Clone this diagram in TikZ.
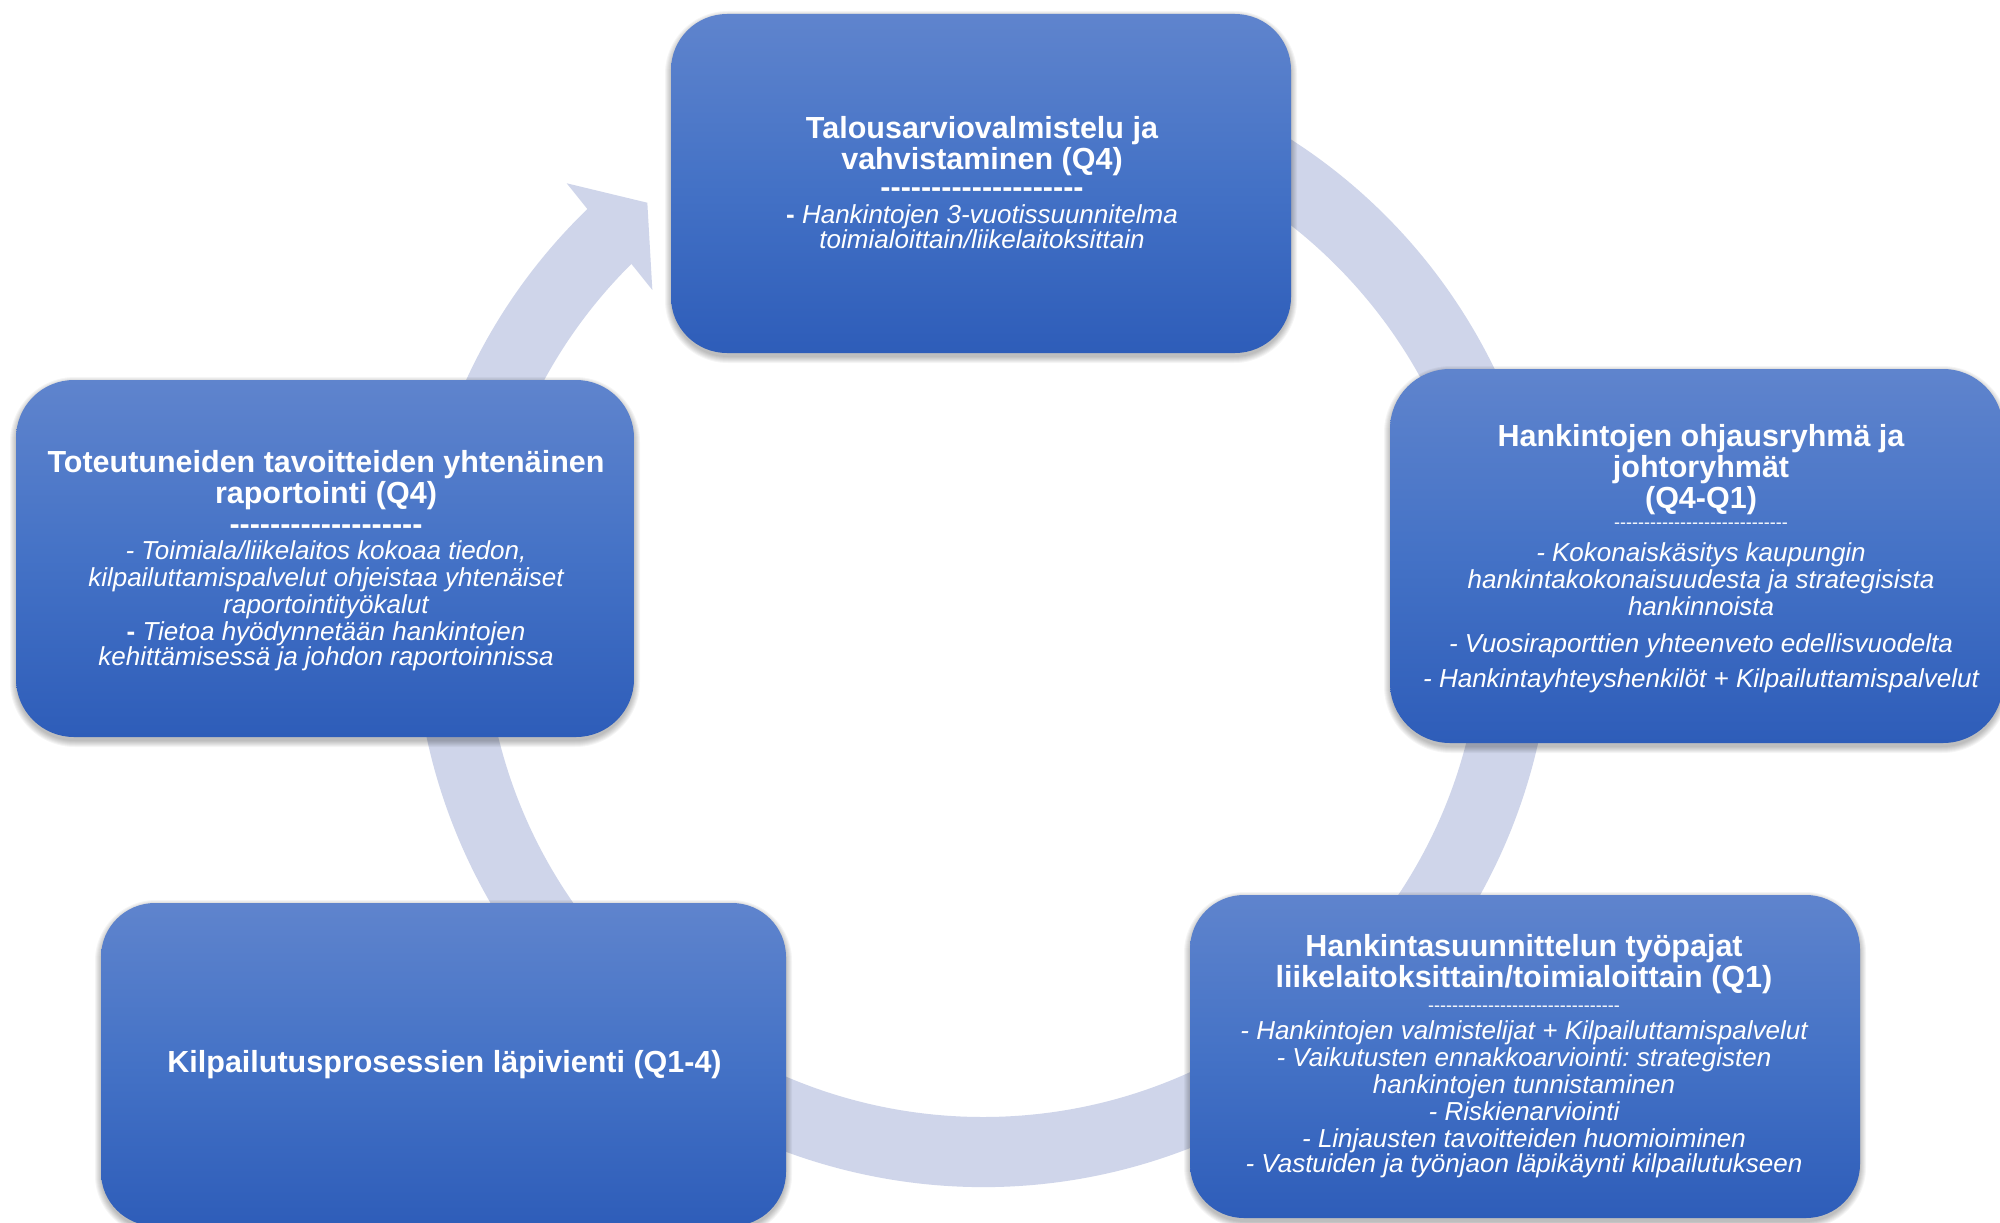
\documentclass[tikz,border=0pt]{standalone}
\usepackage{fontspec}
\setmainfont{Liberation Sans}
\usetikzlibrary{calc}
\definecolor{ringc}{RGB}{207,213,234}
\definecolor{boxtop}{RGB}{95,132,205}
\definecolor{boxmid}{RGB}{68,114,198}
\definecolor{boxbot}{RGB}{46,93,185}
\setlength{\parindent}{0pt}
\lineskiplimit=-100pt
\newcommand\ttl{\fontsize{30.5}{31}\selectfont\bfseries\upshape\spaceskip=0.278em\relax\xspaceskip=0.278em\relax}
\newcommand\bdy{\fontsize{26}{27}\selectfont\mdseries\itshape\spaceskip=0.278em\relax\xspaceskip=0.278em\relax}
\newcommand\thn{\fontsize{18}{20}\selectfont\mdseries\upshape}
\newcount\dashcnt
\newcommand\dashrow[1]{\dashcnt=0\relax\loop-\kern0pt\advance\dashcnt by 1\relax\ifnum\dashcnt<#1\repeat}
\newcommand\softshadow[5]{%
  \foreach \k in {1,...,7}{%
    \fill[black,opacity=0.04,rounded corners=#5pt+\k pt] (#1-\k+1,#2+\k-4) rectangle (#3+\k-1,#4-\k-3);
  }}
\begin{document}
\begin{tikzpicture}[x=1pt,y=1pt,
  stagebox/.style={rounded corners=#1pt, top color=boxtop, bottom color=boxbot, middle color=boxmid, inner sep=0pt, outer sep=0pt},
  stagetext/.style={text=white, align=center, inner sep=0pt, anchor=north},
  ringfill/.style={fill=ringc, draw=none}]
\useasboundingbox (0,0) rectangle (2000,-1223);
\fill[white] (0,0) rectangle (2000,-1223);
% circular arrow
\coordinate (C) at (983,-618);
\fill[ringfill] ($(C)+(118:569)$) arc[start angle=118,end angle=-227,radius=569] -- ($(C)+(133:499)$) arc[start angle=-227,end angle=118,radius=499] -- cycle;
\fill[ringfill] ($(C)+(133.76:601.9)$) -- ($(C)+(128.95:534)$) -- ($(C)+(135.23:465.8)$) -- cycle;
% shadows
\softshadow{671}{-14}{1291}{-353}{56}
\softshadow{1390}{-369}{2003}{-743}{60}
\softshadow{16}{-380}{634}{-737}{58}
\softshadow{1190}{-895}{1860}{-1218}{54}
\softshadow{101}{-903}{786}{-1226}{54}
% boxes
\node[stagebox=56, minimum width=620pt, minimum height=339pt] (budget) at (981,-183.5) {};
\node[stagebox=60, minimum width=613pt, minimum height=374pt] (steer) at (1696.5,-556) {};
\node[stagebox=58, minimum width=618pt, minimum height=357pt] (report) at (325,-558.5) {};
\node[stagebox=54, minimum width=670pt, minimum height=323pt] (workshop) at (1525,-1056.5) {};
\node[stagebox=54, minimum width=685pt, minimum height=323pt] (tender) at (443.5,-1064.5) {};
% texts
\node[stagetext, text width=605pt] (budget-txt) at (982,-115.8)
 {\ttl Talousarviovalmistelu ja\\ vahvistaminen (Q4)\\[-3pt] \dashrow{20}\\[-1pt]
  \bdy{\bfseries\upshape -} Hankintojen 3-vuotissuunnitelma\\ toimialoittain/liikelaitoksittain};
\node[stagetext, text width=600pt] (steer-txt) at (1701,-423.8)
 {\ttl Hankintojen ohjausryhmä ja\\ johtoryhmät\\ (Q4-Q1)\\ \thn\dashrow{29}\\[6pt]
  \bdy - Kokonaiskäsitys kaupungin\\ hankintakokonaisuudesta ja strategisista\\ hankinnoista\\[10pt]
  - Vuosiraporttien yhteenveto edellisvuodelta\\[10pt]
  - Hankintayhteyshenkilöt + Kilpailuttamispalvelut};
\node[stagetext, text width=605pt] (report-txt) at (326,-450.3)
 {\ttl Toteutuneiden tavoitteiden yhtenäinen\\ raportointi (Q4)\\[-0.5pt] \dashrow{19}\\[-1.5pt]
  \bdy - Toimiala/liikelaitos kokoaa tiedon,\\ kilpailuttamispalvelut ohjeistaa yhtenäiset\\ raportointityökalut\\
  {\bfseries\upshape -} Tietoa hyödynnetään hankintojen\\ kehittämisessä ja johdon raportoinnissa};
\node[stagetext, text width=655pt] (workshop-txt) at (1524,-933.8)
 {\ttl Hankintasuunnittelun työpajat\\ liikelaitoksittain/toimialoittain (Q1)\\[4pt] \thn\dashrow{32}\\[1pt]
  \bdy - Hankintojen valmistelijat + Kilpailuttamispalvelut\\ - Vaikutusten ennakkoarviointi: strategisten\\
  hankintojen tunnistaminen\\ - Riskienarviointi\\ - Linjausten tavoitteiden huomioiminen\\
  - Vastuiden ja työnjaon läpikäynti kilpailutukseen};
\node[text=white, inner sep=0pt, anchor=base, font=\ttl] (tender-txt) at (444.5,-1072)
 {Kilpailutusprosessien läpivienti (Q1-4)};
\end{tikzpicture}
\end{document}
